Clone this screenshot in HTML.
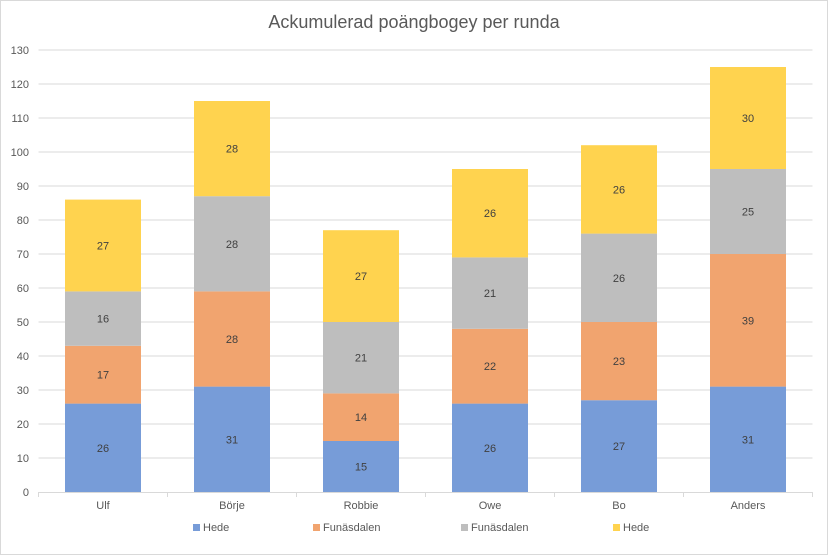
<!DOCTYPE html>
<html><head><meta charset="utf-8"><style>
html,body{margin:0;padding:0;background:#fff;}
svg{display:block;font-family:"Liberation Sans",sans-serif;}
</style></head><body>
<svg id="c" width="828" height="555" xmlns="http://www.w3.org/2000/svg">
<rect x="0.5" y="0.5" width="827" height="554" fill="#fff" stroke="#d9d9d9"/>
<text x="414" y="28" text-anchor="middle" font-size="18" fill="#595959">Ackumulerad poängbogey per runda</text>
</svg>
<script>
var s=document.getElementById('c'),NS='http://www.w3.org/2000/svg';
function el(t,a,txt){var e=document.createElementNS(NS,t);for(var k in a)e.setAttribute(k,a[k]);if(txt!=null)e.textContent=txt;s.appendChild(e);return e;}
var L=38.5,R=812.5,B=492,k=3.4;
for(var v=0;v<=130;v+=10){var y=B-v*k;
 if(v>0)el('line',{x1:L,x2:R,y1:y,y2:y,stroke:'#d9d9d9','stroke-width':1});
 el('text',{x:29,y:y+4,'text-anchor':'end','font-size':11,fill:'#595959'},v);}
var names=['Ulf','Börje','Robbie','Owe','Bo','Anders'];
var d=[[26,17,16,27],[31,28,28,28],[15,14,21,27],[26,22,21,26],[27,23,26,26],[31,39,25,30]];
var col=['#779cd8','#f1a46f','#bebebe','#ffd34f'];
var w=(R-L)/6;
for(var i=0;i<6;i++){var cx=L+w*(i+0.5),y0=B;
 for(var j=0;j<4;j++){var h=d[i][j]*k;
  el('rect',{x:cx-38,y:y0-h,width:76,height:h,fill:col[j]});
  el('text',{x:cx,y:y0-h/2+4,'text-anchor':'middle','font-size':11,fill:'#404040'},d[i][j]);
  y0-=h;}
 el('text',{x:cx,y:509,'text-anchor':'middle','font-size':11,fill:'#595959'},names[i]);}
el('line',{x1:L,x2:R,y1:B+0.5,y2:B+0.5,stroke:'#d9d9d9'});
for(var i=0;i<=6;i++){var x=L+w*i;el('line',{x1:x,x2:x,y1:B,y2:B+5,stroke:'#d9d9d9'});}
var lg=[[193,'Hede'],[313,'Funäsdalen'],[461,'Funäsdalen'],[613,'Hede']];
for(var j=0;j<4;j++){el('rect',{x:lg[j][0],y:524,width:7,height:7,fill:col[j]});
 el('text',{x:lg[j][0]+10,y:531,'font-size':11,fill:'#595959'},lg[j][1]);}
</script>
</body></html>
